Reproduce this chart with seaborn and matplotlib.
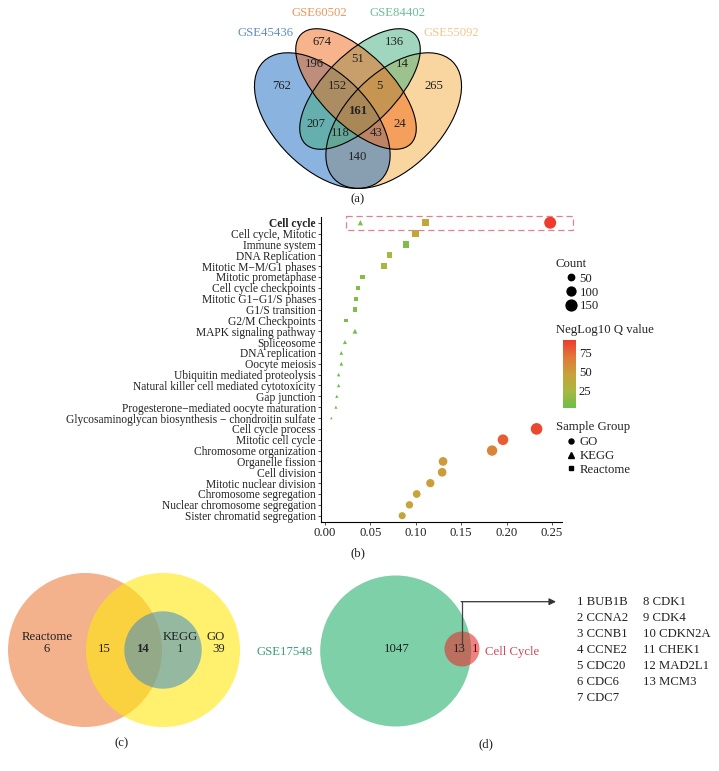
import numpy as np
import pandas as pd
import matplotlib
matplotlib.use("Agg")
import matplotlib.pyplot as plt
import seaborn as sns
from matplotlib.patches import Ellipse, Circle, Rectangle
from matplotlib.colors import LinearSegmentedColormap, Normalize
from matplotlib.cm import ScalarMappable
from matplotlib.lines import Line2D

# (a) DEG overlap of the four datasets
venn4_names = ["GSE45436", "GSE60502", "GSE84402", "GSE55092"]
venn4_regions = ["A", "B", "C", "D", "AB", "BC", "CD", "AD", "AC", "BD",
                 "ABC", "BCD", "ACD", "ABD", "ABCD"]
venn4_counts = [762, 674, 136, 265, 196, 51, 14, 140, 207, 24, 152, 5, 118, 43, 161]

# (b) enrichment of the 161 common genes
terms = ["Cell cycle", "Cell cycle, Mitotic", "Immune system", "DNA Replication",
         "Mitotic M\u2212M/G1 phases", "Mitotic prometaphase", "Cell cycle checkpoints",
         "Mitotic G1\u2212G1/S phases", "G1/S transition", "G2/M Checkpoints",
         "MAPK signaling pathway", "Spliceosome", "DNA replication", "Oocyte meiosis",
         "Ubiquitin mediated proteolysis", "Natural killer cell mediated cytotoxicity",
         "Gap junction", "Progesterone\u2212mediated oocyte maturation",
         "Glycosaminoglycan biosynthesis \u2212 chondroitin sulfate",
         "Cell cycle process", "Mitotic cell cycle", "Chromosome organization",
         "Organelle fission", "Cell division", "Mitotic nuclear division",
         "Chromosome segregation", "Nuclear chromosome segregation",
         "Sister chromatid segregation"]
pt_term = ["Cell cycle", "Cell cycle"] + terms
pt_group = ["KEGG", "Reactome", "GO"] + ["Reactome"] * 9 + ["KEGG"] * 9 + ["GO"] * 9
gene_ratio = [0.039, 0.111, 0.248, 0.100, 0.089, 0.071, 0.065, 0.041, 0.036, 0.034,
              0.033, 0.023, 0.033, 0.022, 0.018, 0.018, 0.015, 0.015, 0.013, 0.012,
              0.007, 0.233, 0.196, 0.184, 0.130, 0.129, 0.116, 0.101, 0.093, 0.085]
gene_count = [34, 67, 184, 60, 53, 43, 39, 25, 22, 21, 20, 14, 29, 19, 16, 16, 13, 13,
              11, 10, 6, 173, 145, 137, 96, 95, 86, 75, 69, 63]
neglog10_q = [10, 42, 92, 42, 8, 24, 27, 13, 12, 11, 11, 8, 6, 5, 5, 5, 4, 4, 4, 4, 3,
              87, 80, 63, 50, 50, 48, 46, 45, 44]
count_breaks = [50, 100, 150]
q_breaks = [25, 50, 75]

# (c) overlap of enriched terms between databases
venn3_regions = ["Reactome", "Reactome+GO", "all", "KEGG+GO", "GO"]
venn3_counts = [6, 15, 14, 1, 39]

# (d) GSE17548 vs cell cycle genes
venn2_names = ["GSE17548", "Cell Cycle"]
venn2_counts = [1047, 13, 1]
hub_genes = ["BUB1B", "CCNA2", "CCNB1", "CCNE2", "CDC20", "CDC6", "CDC7",
             "CDK1", "CDK4", "CDKN2A", "CHEK1", "MAD2L1", "MCM3"]

sns.set_style("ticks")
plt.rcParams["font.family"] = ["Liberation Serif", "DejaVu Serif"]
FS = 9.2
TXT = "#222222"

fig = plt.figure(figsize=(7.19, 7.71), dpi=100)
W, H = 719, 771
ov = fig.add_axes([0, 0, 1, 1])
ov.set_xlim(0, W)
ov.set_ylim(H, 0)
ov.axis("off")
ov.patch.set_visible(False)

def fx(px):
    return px / W

def fy(py):
    return 1 - py / H

# ---------- (a) ----------
ell_fill = {"A": "#1969C3", "B": "#F16919", "C": "#41AF7D", "D": "#F5AF41"}
# centre, full width, full height, angle (pixel space, y down)
ell_geom = {"A": ((322.3, 120.6), 166.6, 95.2, 45),
            "B": ((356.0, 89.0), 155.0, 71.0, 45),
            "C": ((360.0, 89.0), 155.0, 71.0, -45),
            "D": ((393.7, 120.6), 166.6, 95.2, -45)}
for k in ["D", "A", "C", "B"]:
    c, w, h, ang = ell_geom[k]
    ov.add_patch(Ellipse(c, w, h, angle=ang, facecolor=ell_fill[k], alpha=0.5, lw=0))
for k in ["D", "A", "C", "B"]:
    c, w, h, ang = ell_geom[k]
    ov.add_patch(Ellipse(c, w, h, angle=ang, facecolor="none", edgecolor="black", lw=0.8))

region_xy = {"A": (282, 86), "B": (322, 42), "C": (394, 42), "D": (434, 86),
             "AB": (314, 64), "BC": (358, 59), "CD": (402, 64), "AD": (358, 157),
             "AC": (316, 124), "BD": (400, 124), "ABC": (337, 86), "BCD": (379, 86),
             "ACD": (340, 133), "ABD": (376, 133), "ABCD": (358, 111)}
for r, n in zip(venn4_regions, venn4_counts):
    x, y = region_xy[r]
    ov.text(x, y, str(n), ha="center", va="center", fontsize=FS, color=TXT,
            fontweight="bold" if r == "ABCD" else "normal")

name_xy = [(265, 33), (319, 13), (397, 13), (451, 33)]
name_col = ["#5F8FC4", "#EC9660", "#6DBE98", "#F2C88E"]
for nm, (x, y), col in zip(venn4_names, name_xy, name_col):
    ov.text(x, y, nm, ha="center", va="center", fontsize=FS, color=col)
ov.text(358, 199, "(a)", ha="center", va="center", fontsize=FS, color=TXT)

# ---------- (b) ----------
df = pd.DataFrame({"term": pt_term, "group": pt_group, "ratio": gene_ratio,
                   "count": gene_count, "q": neglog10_q})
df["row"] = pd.Categorical(df["term"], categories=terms).codes

q_cmap = LinearSegmentedColormap.from_list(
    "q", [(0, "#6CC04A"), (0.25, "#A8B840"), (0.5, "#C9A13A"),
          (0.75, "#E07838"), (1, "#EE3B2E")])
q_norm = (2, 92)
size_range = (1, 81)
size_norm = (0, 200)

ax_b = fig.add_axes([fx(321), fy(521.7), fx(562 - 321), (521.7 - 216.7) / H])
sns.scatterplot(data=df, x="ratio", y="row", hue="q", palette=q_cmap, hue_norm=q_norm,
                size="count", sizes=size_range, size_norm=size_norm,
                style="group", markers={"GO": "o", "KEGG": "^", "Reactome": "s"},
                linewidth=0, legend=False, ax=ax_b, zorder=3)
ax_b.set_xlim(-0.0044, 0.261)
ax_b.set_ylim(len(terms) - 1 + 0.553, -0.553)
ax_b.set_xticks([0, 0.05, 0.10, 0.15, 0.20, 0.25])
ax_b.set_xticklabels(["0.00", "0.05", "0.10", "0.15", "0.20", "0.25"])
ax_b.set_yticks(range(len(terms)))
ax_b.set_yticklabels(terms)
ax_b.set_xlabel("")
ax_b.set_ylabel("")
for lab in ax_b.get_yticklabels():
    if lab.get_text() == "Cell cycle":
        lab.set_fontweight("bold")
sns.despine(ax=ax_b)
for sp in ["left", "bottom"]:
    ax_b.spines[sp].set_linewidth(0.8)
    ax_b.spines[sp].set_color("black")
ax_b.tick_params(axis="both", length=2.2, width=0.6, color="#333333",
                 labelcolor=TXT, pad=1.5)
ax_b.tick_params(axis="y", labelsize=8.3)
ax_b.tick_params(axis="x", labelsize=FS)
ax_b.patch.set_visible(False)

# highlight box around the cell cycle row
ax_b.add_patch(Rectangle((0.023, -0.645), 0.25, 1.318, fill=False,
                         edgecolor="#E08090", lw=0.9, ls=(0, (5, 3)),
                         clip_on=False, zorder=2))

def s_of(c):
    return size_range[0] + (c - size_norm[0]) / (size_norm[1] - size_norm[0]) * (size_range[1] - size_range[0])

fig.text(fx(556), fy(264), "Count", ha="left", va="center", fontsize=FS, color=TXT)
h_count = [Line2D([], [], ls="", marker="o", color="black", markersize=np.sqrt(s_of(c)))
           for c in count_breaks]
leg1 = ax_b.legend(h_count, [str(c) for c in count_breaks], loc="center left",
                   bbox_to_anchor=(fx(565), fy(292.7)), bbox_transform=fig.transFigure,
                   frameon=False, fontsize=FS, handlelength=1.0, handletextpad=0.15,
                   labelspacing=0.14, borderpad=0, borderaxespad=0)
for t in leg1.get_texts():
    t.set_color(TXT)
ax_b.add_artist(leg1)

fig.text(fx(556), fy(330), "NegLog10 Q value", ha="left", va="center", fontsize=FS, color=TXT)
cax = fig.add_axes([fx(563), fy(408), 13 / W, 68 / H])
cb = fig.colorbar(ScalarMappable(norm=Normalize(*q_norm), cmap=q_cmap), cax=cax)
cb.outline.set_visible(False)
cb.set_ticks(q_breaks)
cax.tick_params(which="both", direction="in", color="white", length=2.5, width=0.8,
                left=True, right=True, labelsize=FS, labelcolor=TXT, pad=2)

fig.text(fx(556), fy(427), "Sample Group", ha="left", va="center", fontsize=FS, color=TXT)
h_grp = [Line2D([], [], ls="", marker="o", color="black", markersize=3.6),
         Line2D([], [], ls="", marker="^", color="black", markersize=4.0),
         Line2D([], [], ls="", marker="s", color="black", markersize=3.4)]
leg2 = ax_b.legend(h_grp, ["GO", "KEGG", "Reactome"], loc="center left",
                   bbox_to_anchor=(fx(565), fy(456)), bbox_transform=fig.transFigure,
                   frameon=False, fontsize=FS, handlelength=1.0, handletextpad=0.15,
                   labelspacing=0.14, borderpad=0, borderaxespad=0)
for t in leg2.get_texts():
    t.set_color(TXT)
ov.text(358, 553, "(b)", ha="center", va="center", fontsize=FS, color=TXT)

# ---------- (c) ----------
ov.add_patch(Circle((85, 650), 77, facecolor="#ED7F3F", alpha=0.6, lw=0))
ov.add_patch(Circle((163, 650), 77, facecolor="#FFE60D", alpha=0.6, lw=0))
ov.add_patch(Circle((163, 650), 38.7, facecolor="#2D82D2", alpha=0.5, lw=0))
c_xy = {"Reactome": (47, 649), "Reactome+GO": (104, 649), "all": (143, 649),
        "KEGG+GO": (180, 649), "GO": (219, 649)}
for r, n in zip(venn3_regions, venn3_counts):
    x, y = c_xy[r]
    ov.text(x, y, str(n), ha="center", va="center", fontsize=FS, color=TXT,
            fontweight="bold" if r == "all" else "normal")
ov.text(47, 637, "Reactome", ha="center", va="center", fontsize=FS, color=TXT)
ov.text(180, 637, "KEGG", ha="center", va="center", fontsize=FS, color=TXT)
ov.text(216, 637, "GO", ha="center", va="center", fontsize=FS, color=TXT)
ov.text(122, 743, "(c)", ha="center", va="center", fontsize=FS, color=TXT)

# ---------- (d) ----------
ov.add_patch(Circle((395.7, 651), 75.5, facecolor="#7DD0A8", lw=0))
ov.add_patch(Circle((462, 649), 17.5, facecolor="#E62F2F", alpha=0.6, lw=0))
ov.text(285, 652, venn2_names[0], ha="center", va="center", fontsize=FS, color="#3E9E78")
ov.text(512, 652, venn2_names[1], ha="center", va="center", fontsize=FS, color="#D0485A")
ov.text(396.7, 649, str(venn2_counts[0]), ha="center", va="center", fontsize=FS, color=TXT)
ov.text(459.3, 649, str(venn2_counts[1]), ha="center", va="center", fontsize=FS, color=TXT)
ov.text(475.5, 649, str(venn2_counts[2]), ha="center", va="center", fontsize=FS, color="#5A1010")
ov.plot([461.5, 461.5], [644, 601.7], color="#444444", lw=0.9)
ov.annotate("", xy=(556, 601.7), xytext=(461.1, 601.7),
            arrowprops=dict(arrowstyle="-|>", color="#333333", lw=0.9,
                            mutation_scale=10, shrinkA=0, shrinkB=0))
for i, g in enumerate(hub_genes):
    col, row = divmod(i, 7)
    ov.text(577 + col * 65.7, 601.7 + row * 16.05, f"{i + 1} {g}", ha="left",
            va="center", fontsize=FS, color=TXT)
ov.text(486, 744, "(d)", ha="center", va="center", fontsize=FS, color=TXT)

fig.savefig("out.png", dpi=100)
